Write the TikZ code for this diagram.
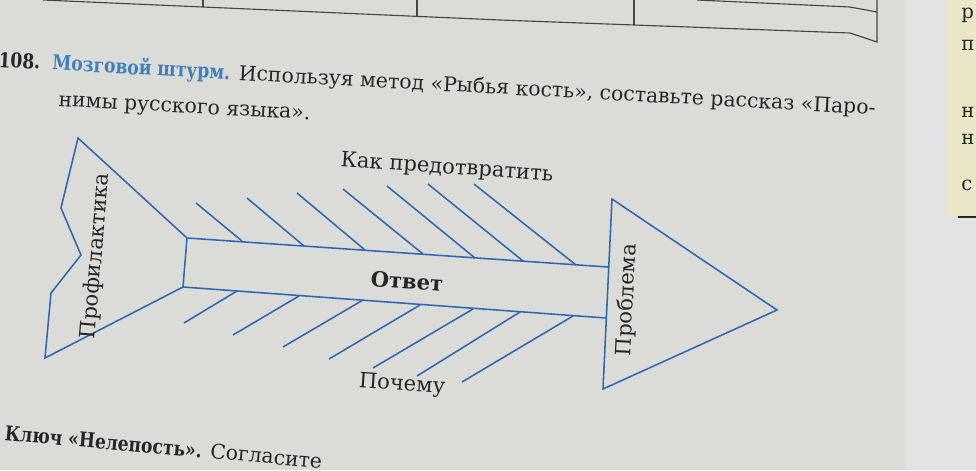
\documentclass[tikz,border=0pt]{standalone}
\usepackage{fontspec}
\setmainfont{DejaVu Serif}
\newfontfamily\titrefont{DejaVu Serif}[FakeStretch=0.84]
\usetikzlibrary{positioning,calc}
\definecolor{bonebleu}{RGB}{45,105,178}
\definecolor{titrebleu}{RGB}{62,128,190}
\definecolor{encre}{RGB}{38,38,38}
\definecolor{papier}{RGB}{219,219,216}
\definecolor{gouttiere}{RGB}{225,227,229}
\definecolor{voisine}{RGB}{234,231,200}
\definecolor{trait}{RGB}{70,70,70}
\tikzset{
  bone/.style={draw=bonebleu, line width=1.1pt, line join=miter},
  fishlabel/.style={text=encre, font=\fontsize{15}{18}\selectfont, inner sep=0pt},
  bodytext/.style={text=encre, font=\fontsize{14.5}{17}\selectfont,
    inner sep=0pt, anchor=base west, rotate=-3.1},
  tableline/.style={draw=trait, line width=0.8pt}
}

\begin{document}
\begin{tikzpicture}[x=0.025cm, y=-0.025cm]
  \useasboundingbox (0,0) rectangle (976,470);
  \clip (0,0) rectangle (976,470);
  \fill[papier] (0,0) rectangle (976,470);
  \fill[gouttiere] (905,0) rectangle (976,470);
  \fill[voisine] (947,0) rectangle (976,217);
  \draw[encre, line width=1.5pt] (958,217) -- (976,217);

  % table above the task
  \draw[tableline] (43,0) -- (500,20) -- (850,33) -- (877,42) -- (877,0);
  \draw[tableline] (697,0) -- (850,7) -- (877,12);
  \foreach \x/\y in {203/7, 417/16, 634/25}
    \draw[tableline] (\x,0) -- (\x,\y);

  % task text
  \node[bodytext] (zadanie1) at (-2,67)
    {{\titrefont\bfseries 108.\hspace{0.6em}\color{titrebleu}Мозговой штурм.} Используя метод «Рыбья кость», составьте рассказ «Паро-};
  \node[bodytext] (zadanie2) at (58,106) {нимы русского языка».};

  % fish
  \coordinate (bodyNW) at (187,238);
  \coordinate (bodyNE) at (608,267);
  \coordinate (bodySE) at (606,318);
  \coordinate (bodySW) at (183,287);
  \coordinate (headN) at (612,199);
  \coordinate (headE) at (777,310);
  \coordinate (headS) at (603,389);
  \draw[bone] (bodyNE) -- (bodyNW) -- (78,138) -- (61,208) -- (81,255)
    -- (51,293) -- (45,358) -- (bodySW) -- (bodySE);
  \draw[bone] (bodyNW) -- (bodySW);
  \draw[bone] (headN) -- (headE) -- (headS) -- cycle;

  % bones
  \foreach \xa/\ya/\xb/\yb in {196/203/242/241, 247/198/304/246, 297/193/365/250,
      343/189/423/254, 387/186/475/258, 428/184/523/261, 474/184/576/265}
    \draw[bone] (\xa,\ya) -- (\xb,\yb);
  \foreach \xa/\ya/\xb/\yb in {237/291/184/323, 299/296/233/335, 363/300/283/347,
      420/305/329/359, 473/309/373/368, 520/312/417/376, 573/316/462/382}
    \draw[bone] (\xa,\ya) -- (\xb,\yb);

  \node[fishlabel, rotate=-4] (kak) at (447,168) {Как предотвратить};
  \node[fishlabel, rotate=-4, font=\fontsize{15}{18}\selectfont\bfseries] (otvet) at (407,281) {Ответ};
  \node[fishlabel, rotate=-4] (pochemu) at (402,385) {Почему};
  \node[fishlabel, rotate=85] (profil) at (96,256) {Профилактика};
  \node[fishlabel, rotate=87] (problema) at (627,300) {Проблема};

  % bottom line and next page
  \node[bodytext, rotate=-2] (klyuch) at (4,440) {{\titrefont\bfseries Ключ «Нелепость».} Согласите};
  \foreach \ltr/\y in {р/18, п/50, н/117, н/144, с/190}
    \node[text=encre, font=\fontsize{14}{17}\selectfont, anchor=base west, inner sep=0pt] at (961,\y) {\ltr};
\end{tikzpicture}
\end{document}
